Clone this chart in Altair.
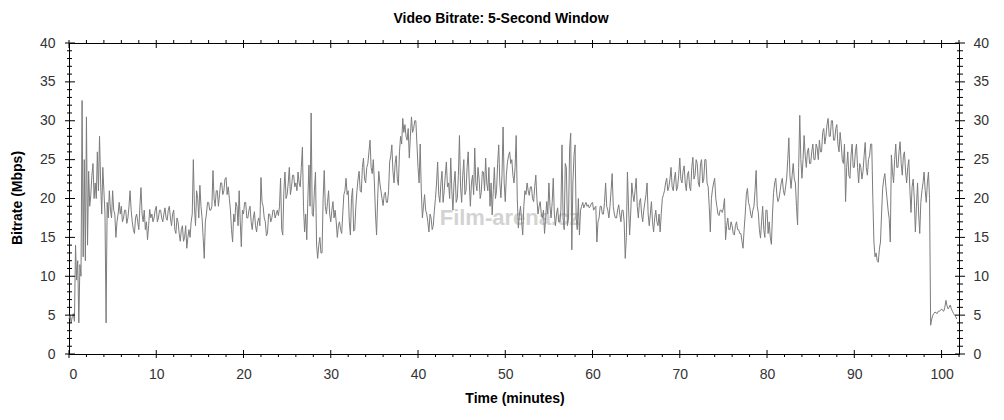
import altair as alt
import pandas as pd

# ---- data (Mbps, one reading every 0.125 min; one row per minute) ----
bitrate_mbps = [
    4.5, 5.0, 4.0, 4.8, 5.2, 4.2, 14.0, 9.5,
    12.0, 4.0, 11.5, 10.0, 32.6, 12.5, 25.0, 12.0,
    30.5, 14.0, 23.5, 19.0, 20.5, 23.0, 24.5, 20.0,
    22.0, 20.0, 26.0, 21.0, 28.0, 22.0, 18.0, 24.0,
    21.0, 18.0, 4.0, 19.5, 17.5, 21.0, 18.5, 17.5,
    21.0, 18.5, 18.0, 15.0, 17.0, 18.0, 19.5, 18.0,
    19.0, 17.0, 17.5, 18.5, 18.5, 16.8, 17.5, 19.0,
    21.0, 18.5, 17.0, 16.0, 15.5, 17.5, 18.0, 17.0,
    16.0, 19.0, 21.4, 18.0, 17.0, 18.5, 16.0, 17.0,
    14.7, 16.5, 18.6, 17.5, 18.0, 17.0, 17.5, 18.5,
    19.0, 17.0, 17.5, 18.5, 18.5, 17.5, 17.0, 18.0,
    18.8, 17.5, 17.2, 18.5, 19.0, 17.5, 16.5, 18.0,
    18.5, 16.0, 15.5, 17.5, 17.0, 15.5, 14.5, 16.0,
    16.5, 14.5, 15.0, 16.5, 13.6, 15.0, 16.0, 15.0,
    17.0, 18.0, 25.0, 19.0, 16.5, 21.0, 20.0, 17.5,
    21.7, 19.0, 17.5, 15.0, 12.3, 17.0, 18.0, 19.5,
    19.5, 18.5, 18.5, 19.0, 23.6, 20.0, 19.0, 21.0,
    21.0, 19.0, 20.5, 22.0, 22.0, 20.5, 21.0, 22.5,
    22.7, 20.5, 21.5, 20.0, 18.5, 16.0, 14.4, 18.0,
    17.0, 19.5, 19.0, 16.5, 21.0, 17.0, 13.8, 18.5,
    18.0, 19.5, 19.5, 17.5, 17.5, 18.5, 19.0, 17.0,
    16.0, 17.5, 18.3, 16.5, 15.7, 17.0, 17.5, 16.5,
    22.7, 19.5, 19.0, 17.5, 17.0, 15.2, 15.5, 18.0,
    18.0, 17.0, 17.5, 18.5, 18.5, 17.5, 18.0, 18.5,
    17.8, 19.0, 22.6, 16.0, 15.3, 21.0, 23.4, 20.0,
    20.5, 22.0, 24.0, 20.5, 21.5, 23.0, 23.0, 21.5,
    22.0, 21.0, 23.4, 22.0, 21.5, 24.0, 26.6, 19.0,
    15.7, 18.0, 14.7, 20.0, 24.3, 19.0, 31.0, 18.0,
    17.7, 21.0, 23.4, 14.0, 12.3, 14.0, 15.0, 13.0,
    13.0, 20.0, 23.6, 19.0, 18.0, 19.5, 21.0, 18.0,
    17.0, 18.5, 19.6, 17.5, 18.5, 17.0, 15.0, 16.5,
    17.0, 16.0, 15.5, 18.0, 20.5, 21.0, 22.6, 20.5,
    21.0, 17.0, 15.3, 20.0, 21.3, 15.8, 16.0, 19.0,
    21.0, 22.5, 23.5, 21.0, 20.8, 24.0, 25.2, 22.5,
    22.0, 24.0, 24.5, 26.0, 27.5, 24.0, 23.2, 25.0,
    22.0, 18.0, 15.3, 20.0, 23.5, 22.0, 21.0, 20.0,
    19.1, 20.5, 20.8, 19.5, 19.5, 21.0, 24.7, 25.5,
    26.9, 23.5, 22.0, 24.5, 25.5, 22.5, 21.7, 26.0,
    28.0, 27.0, 30.3, 28.5, 29.5, 28.0, 27.5, 29.0,
    25.2, 28.0, 30.5, 28.5, 29.0, 30.0, 30.0, 27.0,
    24.0, 22.0, 27.0, 21.0, 17.5, 19.0, 20.5, 18.5,
    18.0, 17.0, 15.7, 18.0, 17.5, 16.0, 16.5, 18.5,
    20.0, 22.0, 24.7, 20.5, 19.5, 22.0, 23.5, 19.5,
    21.0, 23.0, 24.7, 21.5, 22.0, 20.0, 25.2, 21.0,
    18.5, 22.0, 23.5, 19.5, 20.0, 23.0, 28.1, 21.5,
    19.5, 23.0, 25.0, 20.5, 21.0, 24.0, 26.0, 22.0,
    19.0, 22.0, 23.0, 20.5, 26.5, 22.0, 21.0, 24.0,
    22.5, 20.0, 20.8, 23.5, 23.4, 21.0, 25.2, 22.0,
    21.0, 24.0, 19.0, 22.0, 17.9, 21.0, 24.0, 20.0,
    21.0, 24.5, 26.9, 22.0, 20.1, 23.0, 29.2, 22.0,
    19.6, 23.0, 24.7, 25.5, 26.0, 24.5, 25.0, 23.0,
    22.0, 24.0, 28.1, 20.0, 16.2, 18.0, 19.0, 17.0,
    15.3, 19.0, 21.0, 20.5, 22.0, 21.0, 20.4, 21.5,
    21.5, 20.0, 19.6, 21.5, 23.0, 20.0, 18.0, 19.0,
    19.6, 18.0, 17.5, 18.5, 15.5, 17.5, 19.6, 18.0,
    22.0, 19.0, 17.5, 19.5, 22.6, 18.0, 16.5, 18.0,
    18.8, 17.0, 17.0, 18.5, 26.9, 17.5, 16.0, 24.5,
    24.0, 16.5, 17.5, 26.5, 28.4, 13.4, 22.0, 25.5,
    26.9, 17.5, 16.0, 20.0, 15.3, 18.5, 19.0, 19.5,
    18.8, 19.2, 19.5, 19.0, 19.2, 18.8, 19.0, 19.4,
    19.5, 18.5, 18.8, 19.0, 14.4, 17.0, 17.5, 19.0,
    19.0, 18.0, 18.0, 19.5, 22.0, 19.0, 18.5, 17.5,
    19.0, 21.0, 23.2, 19.0, 18.0, 17.5, 17.5, 18.5,
    19.2, 18.0, 17.0, 18.5, 18.5, 17.0, 12.3, 15.0,
    23.4, 19.0, 15.3, 18.0, 22.0, 20.5, 19.6, 21.0,
    22.6, 19.0, 17.5, 19.5, 20.0, 18.0, 17.0, 18.5,
    19.5, 20.5, 22.0, 18.0, 16.5, 18.0, 19.6, 17.0,
    15.7, 17.5, 18.5, 17.0, 16.5, 18.0, 15.7, 18.0,
    20.0, 20.5, 21.0, 22.0, 22.6, 21.0, 21.5, 22.5,
    24.0, 21.5, 21.0, 22.5, 23.4, 21.0, 21.5, 23.0,
    25.2, 22.5, 22.0, 23.5, 24.2, 22.0, 21.0, 23.0,
    23.5, 21.5, 21.0, 24.0, 25.3, 22.5, 23.0, 25.0,
    24.5, 22.0, 21.5, 24.5, 25.0, 22.0, 22.5, 25.0,
    25.0, 22.0, 21.5, 19.0, 15.7, 20.0, 21.2, 22.0,
    22.6, 20.0, 19.0, 18.0, 17.8, 18.5, 18.5, 18.2,
    18.8, 20.0, 14.7, 16.5, 17.5, 16.0, 16.0, 17.0,
    16.5, 15.5, 15.3, 16.5, 17.0, 16.0, 16.0, 15.5,
    15.5, 14.5, 13.6, 16.0, 18.0, 20.5, 21.3, 19.5,
    19.0, 18.0, 17.5, 18.5, 19.0, 21.0, 23.6, 19.0,
    18.2, 16.0, 14.9, 17.0, 19.0, 16.0, 15.0, 18.5,
    18.5, 15.5, 17.0, 15.0, 14.1, 18.0, 20.8, 22.0,
    22.6, 20.5, 19.6, 20.0, 21.0, 22.0, 22.6, 21.0,
    20.4, 21.5, 22.6, 25.0, 27.8, 23.0, 21.3, 23.0,
    24.5, 22.5, 22.0, 19.0, 16.6, 24.0, 30.7, 25.0,
    22.6, 25.0, 28.1, 25.5, 24.0, 26.0, 26.5, 24.5,
    24.5, 26.0, 27.0, 25.0, 25.0, 27.0, 26.5, 25.0,
    27.5, 26.0, 26.0, 28.5, 29.0, 27.0, 28.0, 29.5,
    30.3, 28.0, 28.0, 30.0, 30.0, 27.5, 27.5, 29.0,
    29.5, 27.0, 26.0, 28.5, 27.0, 25.0, 24.5, 27.0,
    19.6, 24.0, 26.0, 23.0, 22.6, 25.5, 27.0, 24.0,
    24.0, 26.0, 27.0, 24.0, 22.0, 24.5, 24.0, 22.5,
    23.5, 25.5, 27.2, 24.0, 23.0, 25.0, 25.5, 27.0,
    27.0, 20.0, 14.4, 12.5, 13.0, 12.0, 11.8, 13.5,
    14.4, 18.0, 21.3, 22.5, 23.2, 21.5, 20.0, 18.5,
    17.4, 14.4, 25.6, 23.5, 22.0, 25.0, 27.0, 24.0,
    24.0, 26.0, 27.3, 24.5, 23.0, 25.5, 26.0, 23.5,
    22.0, 24.0, 25.0, 21.0, 18.2, 21.5, 22.5, 20.0,
    15.7, 19.0, 22.0, 18.0, 15.5, 19.5, 21.0, 22.0,
    23.4, 21.0, 19.5, 22.0, 23.4, 20.0, 3.7, 4.5,
    5.0, 5.2, 5.4, 5.3, 5.2, 5.5, 5.5, 5.6,
    5.8, 5.6, 5.5, 6.0, 6.9, 6.2, 5.8, 6.0,
    6.3, 5.8, 5.5, 5.2, 5.0, 4.8, 4.5,
]
sample_step_min = 0.125
time_min = [round(i * sample_step_min, 3) for i in range(len(bitrate_mbps))]

x_major_ticks = [0, 10, 20, 30, 40, 50, 60, 70, 80, 90, 100]
x_minor_ticks = [v for v in range(2, 103, 2) if v % 10 != 0]
y_major_ticks = [0, 5, 10, 15, 20, 25, 30, 35, 40]
y_minor_ticks = [v for v in range(1, 40) if v % 5 != 0]

title_text = "Video Bitrate: 5-Second Window"
x_title_text = "Time (minutes)"
y_title_text = "Bitrate (Mbps)"
watermark_text = "Film-arena.cz"

FONT = "Liberation Sans"
W, H = 890, 311

xs = alt.Scale(domain=[0, 102], nice=False, zero=False)
ys = alt.Scale(domain=[0, 40], nice=False)

df = pd.DataFrame({"t": time_min, "v": bitrate_mbps})
xmaj = pd.DataFrame({"t": x_major_ticks})
xmin = pd.DataFrame({"t": x_minor_ticks})
ymaj = pd.DataFrame({"v": y_major_ticks})
ymin = pd.DataFrame({"v": y_minor_ticks})

watermark = alt.Chart(pd.DataFrame({"label": [watermark_text]})).mark_text(
    font=FONT, fontSize=22, fontWeight="bold", color="#d3d3d3", align="center", baseline="middle"
).encode(x=alt.value(441), y=alt.value(175), text="label:N")

line = alt.Chart(df).mark_line(color="#7c7c7c", strokeWidth=1).encode(
    x=alt.X("t:Q", scale=xs, axis=alt.Axis(values=x_major_ticks, ticks=False, domain=False, grid=False,
                                            labelPadding=13, title=None, orient="bottom")),
    y=alt.Y("v:Q", scale=ys, axis=alt.Axis(values=y_major_ticks, ticks=False, domain=False, grid=False,
                                            labelPadding=14, title=None, orient="left")),
)

tick_color = "#000000"

ymaj_left = alt.Chart(ymaj).mark_rule(color=tick_color).encode(
    y=alt.Y("v:Q", scale=ys, axis=None), x=alt.value(-4), x2=alt.value(6))
ymaj_right = alt.Chart(ymaj).mark_rule(color=tick_color).encode(
    y=alt.Y("v:Q", scale=ys, axis=alt.Axis(values=y_major_ticks, ticks=False, domain=False, grid=False,
                                            labelPadding=14, title=None, orient="right")),
    x=alt.value(W - 4), x2=alt.value(W + 6))
ymin_left = alt.Chart(ymin).mark_rule(color=tick_color).encode(
    y=alt.Y("v:Q", scale=ys, axis=None), x=alt.value(-2), x2=alt.value(3))
ymin_right = alt.Chart(ymin).mark_rule(color=tick_color).encode(
    y=alt.Y("v:Q", scale=ys, axis=None), x=alt.value(W - 2), x2=alt.value(W + 4))

xmaj_bottom = alt.Chart(xmaj).mark_rule(color=tick_color).encode(
    x=alt.X("t:Q", scale=xs, axis=None), y=alt.value(H - 4), y2=alt.value(H + 4))
xmaj_top = alt.Chart(xmaj).mark_rule(color=tick_color).encode(
    x=alt.X("t:Q", scale=xs, axis=None), y=alt.value(-3), y2=alt.value(5))
xmin_bottom = alt.Chart(xmin).mark_rule(color=tick_color).encode(
    x=alt.X("t:Q", scale=xs, axis=None), y=alt.value(H), y2=alt.value(H + 3))
xmin_top = alt.Chart(xmin).mark_rule(color=tick_color).encode(
    x=alt.X("t:Q", scale=xs, axis=None), y=alt.value(-3), y2=alt.value(0))

title = alt.Chart(pd.DataFrame({"label": [title_text]})).mark_text(
    font=FONT, fontSize=14, fontWeight="bold", color="#000000", align="center", baseline="middle"
).encode(x=alt.value(432), y=alt.value(-24), text="label:N")
x_title = alt.Chart(pd.DataFrame({"label": [x_title_text]})).mark_text(
    font=FONT, fontSize=14, fontWeight="bold", color="#000000", align="center", baseline="middle"
).encode(x=alt.value(446), y=alt.value(356), text="label:N")
y_title = alt.Chart(pd.DataFrame({"label": [y_title_text]})).mark_text(
    font=FONT, fontSize=14, fontWeight="bold", color="#000000", align="center", baseline="middle", angle=270
).encode(x=alt.value(-51), y=alt.value(155), text="label:N")

chart = alt.layer(
    watermark, line, ymaj_left, ymaj_right, ymin_left, ymin_right,
    xmaj_bottom, xmaj_top, xmin_bottom, xmin_top, title, x_title, y_title,
).resolve_axis(x="independent", y="independent").properties(
    width=W, height=H,
    autosize=alt.AutoSizeParams(type="none"),
    padding={"left": 61, "top": 35, "right": 37, "bottom": 58},
    background="white",
).configure_view(stroke="#000000", strokeWidth=1).configure_axis(
    labelFont=FONT, labelFontSize=14, labelColor="#333333",
)

chart.save("out.html", embed_options={"renderer": "svg", "actions": False})
